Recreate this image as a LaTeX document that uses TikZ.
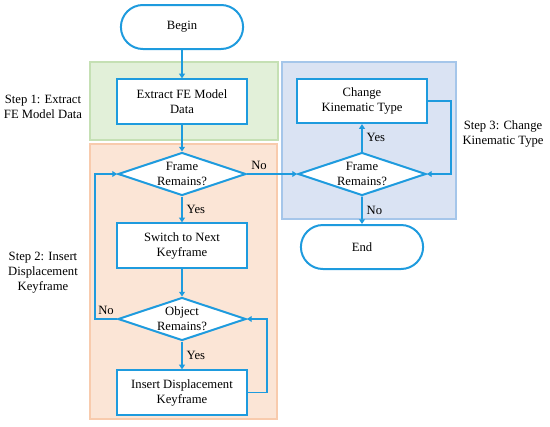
\documentclass[tikz,border=0pt]{standalone}
\usepackage{fontspec}
\setmainfont{Liberation Serif}
\usetikzlibrary{shapes.geometric, shapes.misc, arrows.meta, positioning}
\usepackage{xcolor}
\definecolor{flowblue}{RGB}{30,155,222}
\definecolor{stepgreen}{RGB}{226,240,217}
\definecolor{stepgreenline}{RGB}{197,224,180}
\definecolor{steporange}{RGB}{251,229,214}
\definecolor{steporangeline}{RGB}{248,203,173}
\definecolor{stepblue}{RGB}{218,227,243}
\definecolor{stepblueline}{RGB}{165,198,234}

\tikzset{
	process/.style={draw=flowblue, line width=1.7pt, fill=white, rectangle, minimum width=3.9cm, minimum height=1.33cm, align=center},
	terminal/.style={draw=flowblue, line width=1.7pt, fill=white, rounded rectangle, minimum width=3.9cm, minimum height=1.32cm},
	decision/.style={draw=flowblue, line width=1.7pt, fill=white, diamond, aspect=3, inner sep=-2pt, minimum width=3.84cm, minimum height=1.29cm, align=center},
	flow/.style={draw=flowblue, line width=1.4pt, -{Triangle[length=4pt,width=5pt]}},
	steplabel/.style={align=center}
}

\begin{document}
\begin{tikzpicture}[x=0.3mm, y=-0.3mm, font=\fontsize{10.8}{12.8}\selectfont]
		\useasboundingbox (0,0) rectangle (550,426);
		% step backgrounds
		\scope
			\draw[fill=stepgreen, draw=stepgreenline, line width=1.2pt] (90,62) rectangle (278,140);
			\draw[fill=steporange, draw=steporangeline, line width=1.2pt] (90,144) rectangle (277,419);
			\draw[fill=stepblue, draw=stepblueline, line width=1.2pt] (282,62) rectangle (456,219);
		\endscope
		% rails of the loops
		\coordinate (leftrail) at (95,0);
		\coordinate (rightrail) at (267,0);
		\coordinate (chgrail) at (451,0);
		% left column
		\node[terminal] (begin) at (182,27) {Begin};
		\node[process] (extract) at (182,101.5) {Extract FE Model\\Data};
		\node[decision] (frame) at (182,174) {Frame\\Remains?};
		\node[process] (switch) at (182,245.5) {Switch to Next\\Keyframe};
		\node[decision] (object) at (182,319) {Object\\Remains?};
		\node[process] (insert) at (182,392.5) {Insert Displacement\\Keyframe};
		% right column
		\node[process] (change) at (362,101) {Change\\Kinematic Type};
		\node[decision] (frametwo) at (362,174) {Frame\\Remains?};
		\node[terminal] (end) at (362,247) {End};
		% step labels
		\node[steplabel] (stepone) at (43,107) {Step 1: Extract\\FE Model Data};
		\node[steplabel] (steptwo) at (43,273) {Step 2: Insert\\Displacement\\Keyframe};
		\node[steplabel] (stepthree) at (503,134) {Step 3: Change\\Kinematic Type};
		% connectors
		\draw[flow] (begin) -- (extract);
		\draw[flow] (extract) -- (frame);
		\draw[flow] (frame) -- node[right] {Yes} (switch);
		\draw[flow] (switch) -- (object);
		\draw[flow] (object) -- node[right] {Yes} (insert);
		\draw[flow] (object.west) -- node[above] {No} (object.west -| leftrail) -- (frame.west -| leftrail) -- (frame.west);
		\draw[flow] (insert.east) -- (insert.east -| rightrail) -- (object.east -| rightrail) -- (object.east);
		\draw[flow] (frame.east) -- node[pos=0.24, above] {No} (frametwo.west);
		\draw[flow] (frametwo) -- node[right] {Yes} (change);
		\draw[flow] (change.east) -- (change.east -| chgrail) -- (frametwo.east -| chgrail) -- (frametwo.east);
		\draw[flow] (frametwo) -- node[right] {No} (end);
	\end{tikzpicture}
\end{document}
